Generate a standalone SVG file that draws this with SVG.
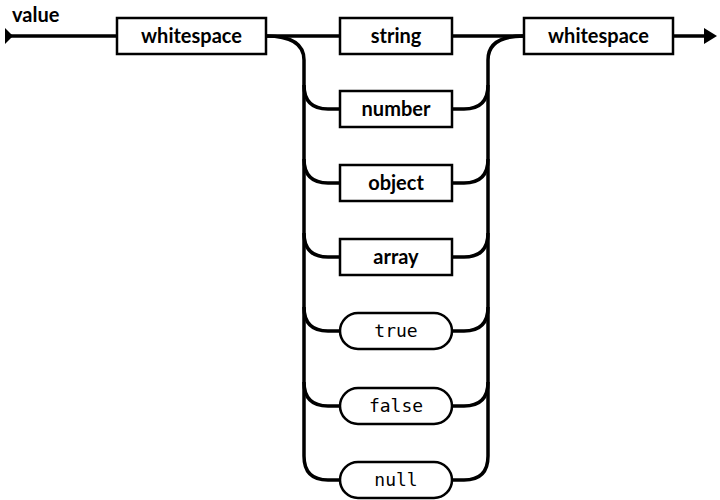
<svg xmlns="http://www.w3.org/2000/svg" width="720" height="500" viewBox="0 0 720 500">
<style>
.b{fill:#fff;stroke:#000;stroke-width:2.5}
.l{fill:none;stroke:#000;stroke-width:3.5}
.t{font-family:Lato,"Liberation Sans",sans-serif;font-weight:bold;font-size:20px;text-anchor:middle}
.m{font-family:"DejaVu Sans Mono",monospace;font-size:18px;text-anchor:middle}
</style>
<text x="12" y="22" class="t" style="text-anchor:start">value</text>
<g id="connectors">
<path class="l" d="M9 36H117M266 36H340M452 36H524M673 36H706"/>
<path class="l" d="M266 36Q304 36 304 60V456Q304 480 328 480H340"/>
<path class="l" d="M304 85Q304 109 328 109H340M304 159Q304 183 328 183H340M304 233Q304 257 328 257H340M304 307Q304 331 328 331H340M304 382Q304 406 328 406H340"/>
<path class="l" d="M524 36Q488 36 488 60V456Q488 480 464 480H452"/>
<path class="l" d="M488 85Q488 109 464 109H452M488 159Q488 183 464 183H452M488 233Q488 257 464 257H452M488 307Q488 331 464 331H452M488 382Q488 406 464 406H452"/>
<path d="M5 28L13 36L5 44Z"/>
<path d="M704 28L717 36L704 44Z"/>
</g>
<g id="ws1"><rect class="b" x="117" y="18" width="149" height="36"/><text x="191.5" y="43" class="t">whitespace</text></g>
<g id="string"><rect class="b" x="340" y="18" width="112" height="36"/><text x="396" y="43" class="t">string</text></g>
<g id="number"><rect class="b" x="340" y="91" width="112" height="36"/><text x="396" y="116" class="t">number</text></g>
<g id="object"><rect class="b" x="340" y="165" width="112" height="36"/><text x="396" y="190" class="t">object</text></g>
<g id="array"><rect class="b" x="340" y="239" width="112" height="36"/><text x="396" y="264" class="t">array</text></g>
<g id="true"><rect class="b" x="340" y="313" width="112" height="36" rx="18"/><text x="396" y="337" class="m">true</text></g>
<g id="false"><rect class="b" x="340" y="388" width="112" height="36" rx="18"/><text x="396" y="412" class="m">false</text></g>
<g id="null"><rect class="b" x="340" y="462" width="112" height="36" rx="18"/><text x="396" y="486" class="m">null</text></g>
<g id="ws2"><rect class="b" x="524" y="18" width="149" height="36"/><text x="598.5" y="43" class="t">whitespace</text></g>
</svg>
